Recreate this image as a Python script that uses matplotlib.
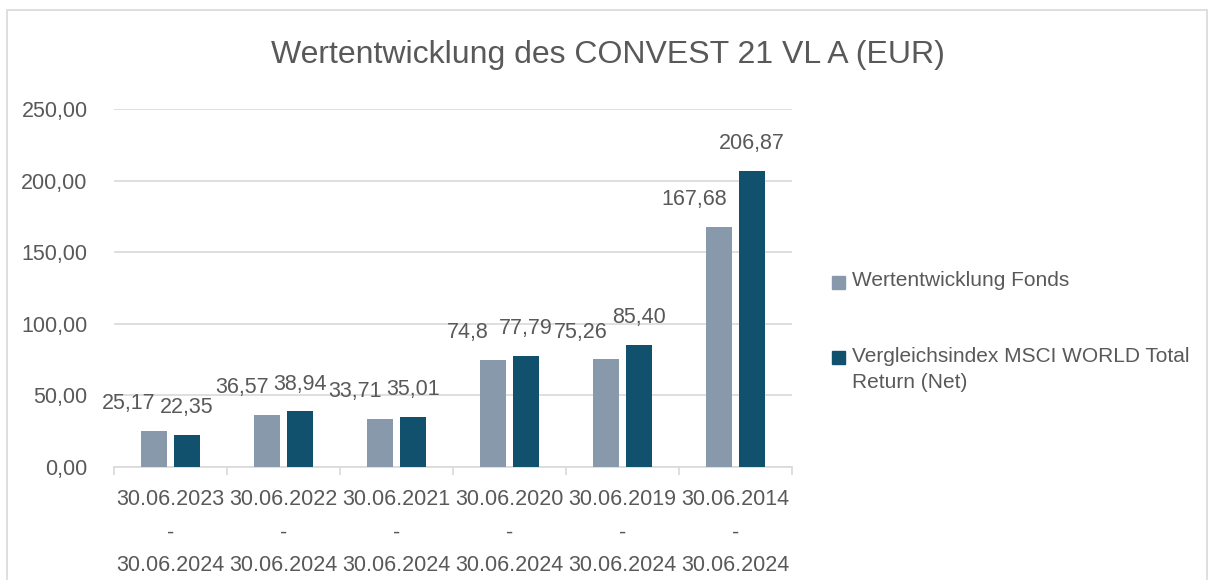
import matplotlib
matplotlib.use("Agg")
import matplotlib.pyplot as plt
from matplotlib.patches import Rectangle
import numpy as np

# Daten
zeitraum = ["30.06.2023\n-\n30.06.2024", "30.06.2022\n-\n30.06.2024", "30.06.2021\n-\n30.06.2024",
            "30.06.2020\n-\n30.06.2024", "30.06.2019\n-\n30.06.2024", "30.06.2014\n-\n30.06.2024"]
fonds = [25.17, 36.57, 33.71, 74.8, 75.26, 167.68]
fonds_labels = ["25,17", "36,57", "33,71", "74,8", "75,26", "167,68"]
msci = [22.35, 38.94, 35.01, 77.79, 85.40, 206.87]
msci_labels = ["22,35", "38,94", "35,01", "77,79", "85,40", "206,87"]
yticks = [0, 50, 100, 150, 200, 250]

plt.rcParams['font.family'] = ['Liberation Sans', 'DejaVu Sans']
txt = "#595959"
c_fonds = "#8899AB"
c_msci = "#12516E"
fs = 15.5

fig = plt.figure(figsize=(12.13, 5.8), dpi=100)
W, H = 1213, 580
# Rahmen um das Diagramm
fig.patches.append(Rectangle((7 / W, -0.05), 1200 / W, 1.05 - 10 / H, transform=fig.transFigure,
                             fill=False, edgecolor="#D9D9D9", lw=1.2))

ax = fig.add_axes([114 / W, 1 - 467 / H, (792 - 114) / W, (467 - 109) / H])
x = np.arange(len(zeitraum))
bw = 0.225
ax.bar(x - 0.145, fonds, bw, color=c_fonds, zorder=3)
ax.bar(x + 0.145, msci, bw, color=c_msci, zorder=3)
# Datenbeschriftungen (Fonds-Beschriftung etwas nach links versetzt, wie in Excel)
for i in range(len(zeitraum)):
    ax.annotate(fonds_labels[i], (x[i] - 0.145, fonds[i]), xytext=(-18, 19.5), textcoords="offset points",
                ha="center", va="center", fontsize=fs, color=txt)
    ax.annotate(msci_labels[i], (x[i] + 0.145, msci[i]), xytext=(0, 19.5), textcoords="offset points",
                ha="center", va="center", fontsize=fs, color=txt)

ax.set_xlim(-0.5, len(zeitraum) - 0.5)
ax.set_ylim(0, 250)
ax.set_yticks(yticks)
ax.set_yticklabels(["%d,00" % v for v in yticks])
ax.grid(axis="y", color="#D9D9D9", lw=1.2, zorder=0)
for s in ["top", "right", "left"]:
    ax.spines[s].set_visible(False)
ax.spines["bottom"].set_color("#D9D9D9")
ax.spines["bottom"].set_linewidth(1.2)
ax.tick_params(axis="y", length=0, pad=19, labelsize=fs, labelcolor=txt)
ax.set_xticks(x)
ax.set_xticklabels(zeitraum, linespacing=1.75)
ax.tick_params(axis="x", length=0, pad=16, labelsize=fs, labelcolor=txt)
ax.set_xticks(np.arange(-0.5, len(zeitraum)), minor=True)
ax.tick_params(axis="x", which="minor", length=6, color="#D9D9D9", width=1.2)

fig.text(608 / W, 1 - 55 / H, "Wertentwicklung des CONVEST 21 VL A (EUR)", ha="center", va="center",
         fontsize=23, color=txt)

# Legende
for yy, col in [(282, c_fonds), (357, c_msci)]:
    fig.patches.append(Rectangle((832 / W, 1 - (yy + 6.5) / H), 13 / W, 13 / H,
                                 transform=fig.transFigure, color=col))
fig.text(852 / W, 1 - 281 / H, "Wertentwicklung Fonds", va="center", fontsize=15, color=txt)
fig.text(852 / W, 1 - 356 / H, "Vergleichsindex MSCI WORLD Total", va="center", fontsize=15, color=txt)
fig.text(852 / W, 1 - 383 / H, "Return (Net)", va="center", fontsize=15, color=txt)

fig.savefig("out.png", dpi=100)
